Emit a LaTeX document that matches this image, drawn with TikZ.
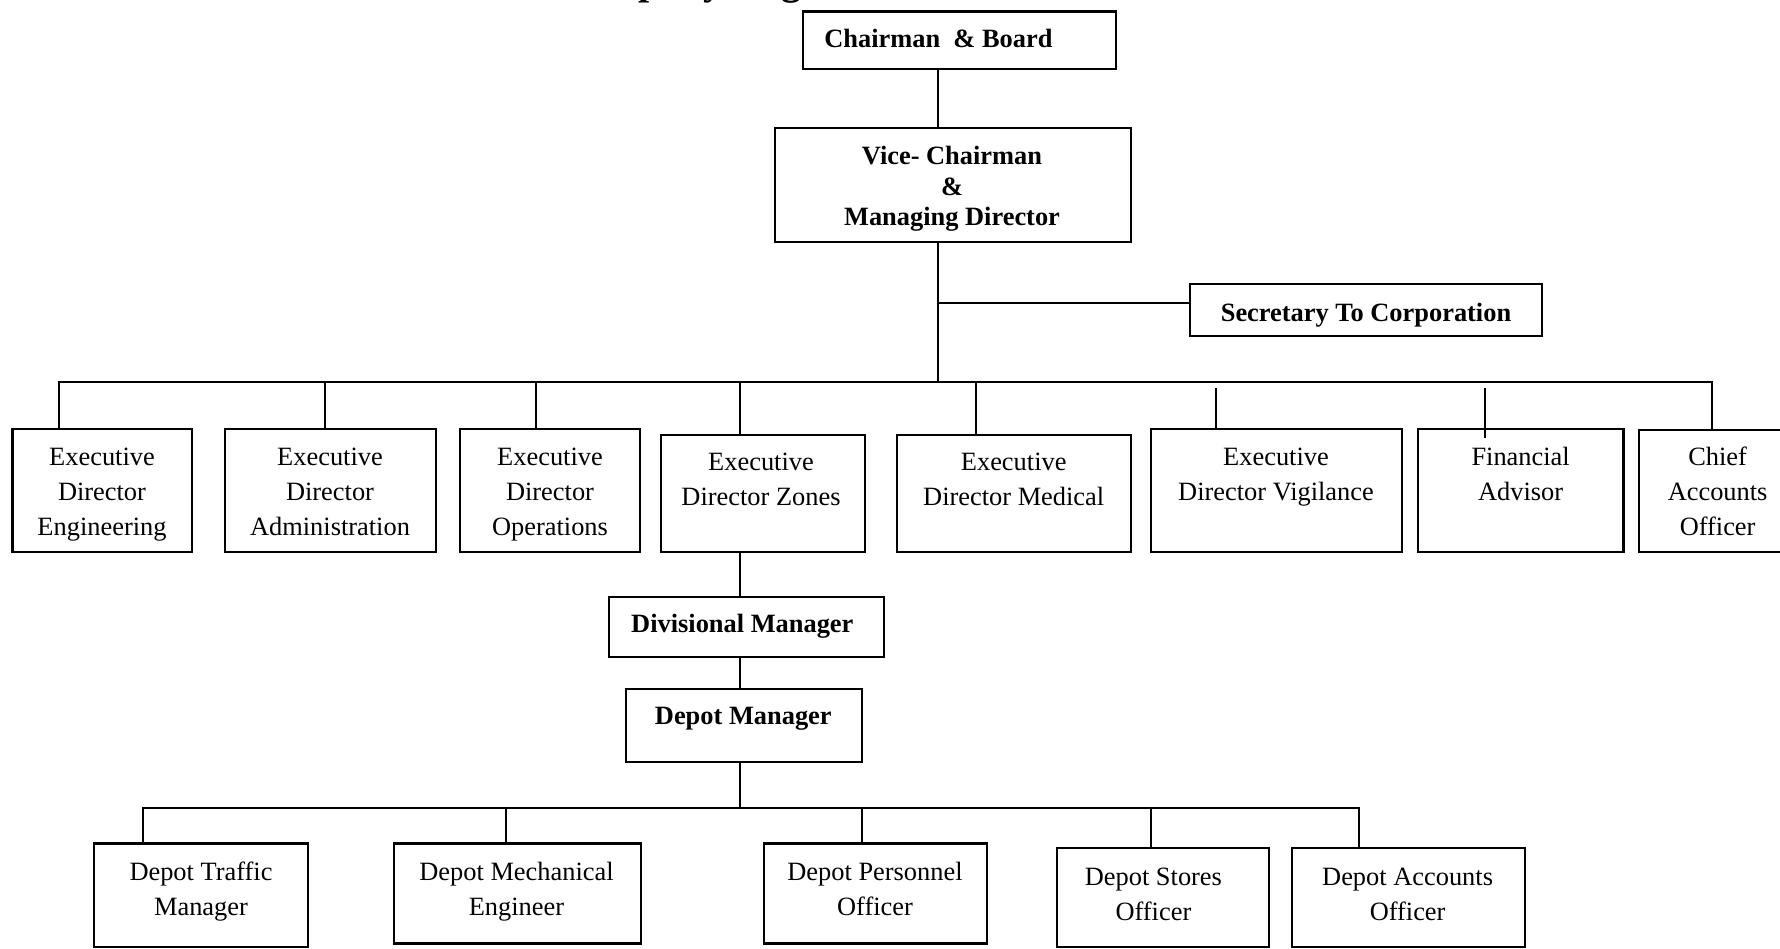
\documentclass[tikz,border=0pt]{standalone}
\usepackage{fontspec}
\setmainfont{Liberation Serif}
\usetikzlibrary{fit}
\newcommand{\boxlines}[1]{\begin{tabular}[t]{@{}c@{}}#1\end{tabular}}
\tikzset{
  orgbox/.style={draw, line width=1.1pt, inner sep=0pt},
  reg/.style={inner sep=0pt, anchor=base, font=\fontsize{13.2}{17.5}\selectfont},
  bld/.style={inner sep=0pt, anchor=base, font=\bfseries\fontsize{13.2}{15.35}\selectfont},
  link/.style={line width=1pt, line cap=rect},
}
\begin{document}
\begin{tikzpicture}[x=0.5pt, y=-0.5pt]
\useasboundingbox (0,0) rectangle (1780,948);

% heading, running off the top edge of the page
\node[anchor=base west, inner sep=0pt, font=\bfseries\fontsize{20}{24}\selectfont] (title) at (556,-5.4) {Company Organisation Chart};

% top management
\node[orgbox, fit={(803,11.4) (1116,69.2)}] (chair) {};
\node[bld, anchor=base west] (chair-t) at (824,47.5) {Chairman\ \ \& Board};
\node[orgbox, fit={(775,128) (1131,242)}] (vc) {};
\node[bld] (vc-t) at (952,164.5) {\boxlines{Vice- Chairman\\\&\\Managing Director}};
\node[orgbox, fit={(1190,284) (1542,336)}] (sec) {};
\node[bld] (sec-t) at (1366,321) {Secretary To Corporation};

% directors
\node[orgbox, fit={(12.5,429) (192,552)}] (ede) {};
\node[reg] (ede-t) at (102,465) {\boxlines{Executive\\Director\\Engineering}};
\node[orgbox, fit={(224.8,429) (435.9,552)}] (eda) {};
\node[reg] (eda-t) at (330,465) {\boxlines{Executive\\Director\\Administration}};
\node[orgbox, fit={(459.8,429) (640.3,552)}] (edo) {};
\node[reg] (edo-t) at (550,465) {\boxlines{Executive\\Director\\Operations}};
\node[orgbox, fit={(660.7,435) (865,552)}] (edz) {};
\node[reg] (edz-t) at (761,470.5) {\boxlines{Executive\\Director Zones}};
\node[orgbox, fit={(896.8,435) (1130.7,552)}] (edm) {};
\node[reg] (edm-t) at (1013.7,470.5) {\boxlines{Executive\\Director Medical}};
\node[orgbox, fit={(1151,429) (1402,552)}] (edv) {};
\node[reg] (edv-t) at (1276,465) {\boxlines{Executive\\Director Vigilance}};
\node[orgbox, fit={(1418,429) (1623.4,552)}] (fa) {};
\node[reg] (fa-t) at (1520.6,465) {\boxlines{Financial\\Advisor}};
\node[orgbox, fit={(1639.2,430) (1800,552)}] (cao) {};
\node[reg] (cao-t) at (1717.6,465) {\boxlines{Chief\\Accounts\\Officer}};

% zone line
\node[orgbox, fit={(609.3,597.3) (884.3,656.7)}] (dm) {};
\node[bld] (dm-t) at (742.3,632.7) {Divisional Manager};
\node[orgbox, fit={(626,689) (862,762)}] (dep) {};
\node[bld] (dep-t) at (743.3,724) {Depot Manager};

% depot officers
\node[orgbox, fit={(94.2,843.5) (307.6,947)}] (dtm) {};
\node[reg] (dtm-t) at (201,880) {\boxlines{Depot Traffic\\Manager}};
\node[orgbox, fit={(393.9,843.5) (640.6,943.4)}] (dme) {};
\node[reg] (dme-t) at (516.5,880) {\boxlines{Depot Mechanical\\Engineer}};
\node[orgbox, fit={(764,843.5) (987,943.4)}] (dpo) {};
\node[reg] (dpo-t) at (875,880) {\boxlines{Depot Personnel\\Officer}};
\node[orgbox, fit={(1056.9,848) (1269.2,947)}] (dso) {};
\node[reg] (dso-t) at (1153.4,885) {\boxlines{Depot Stores\\Officer}};
\node[orgbox, fit={(1291.9,848) (1524.6,947)}] (dao) {};
\node[reg] (dao-t) at (1407.6,885) {\boxlines{Depot Accounts\\Officer}};

% upper connectors
\coordinate (trunk) at (938,382);
\coordinate (secj) at (938,303);
\draw[link] (chair.south -| trunk) -- (vc.north -| trunk);
\draw[link] (vc.south -| trunk) -- (trunk);
\draw[link] (secj) -- (secj -| sec.west);

\coordinate (b1L) at (59,382);
\coordinate (b1R) at (1712,382);
\coordinate (dA) at (324.7,382);
\coordinate (dO) at (535.8,382);
\coordinate (dZ) at (740.2,382);
\coordinate (dM) at (976.3,382);
\coordinate (dV) at (1215.8,389);
\coordinate (dF) at (1484.8,389);
\draw[link] (b1L) -- (b1R);
\draw[link] (b1L) -- (b1L |- ede.north);
\draw[link] (dA) -- (dA |- eda.north);
\draw[link] (dO) -- (dO |- edo.north);
\draw[link] (dZ) -- (dZ |- edz.north);
\draw[link] (dM) -- (dM |- edm.north);
\draw[link] (dV) -- (dV |- edv.north);
\draw[link] (dF) -- ([yshift=-4.5pt]dF |- fa.north);
\draw[link] (b1R) -- (b1R |- cao.north);

% lower connectors
\coordinate (spine) at (740,808);
\draw[link] (edz.south -| spine) -- (dm.north -| spine);
\draw[link] (dm.south -| spine) -- (dep.north -| spine);
\draw[link] (dep.south -| spine) -- (spine);

\coordinate (b2L) at (143,808);
\coordinate (b2R) at (1358.8,808);
\coordinate (dE) at (506.3,808);
\coordinate (dP) at (861.6,808);
\coordinate (dS) at (1151.1,808);
\draw[link] (b2L) -- (b2R);
\draw[link] (b2L) -- (b2L |- dtm.north);
\draw[link] (dE) -- (dE |- dme.north);
\draw[link] (dP) -- (dP |- dpo.north);
\draw[link] (dS) -- (dS |- dso.north);
\draw[link] (b2R) -- (b2R |- dao.north);
\end{tikzpicture}
\end{document}
